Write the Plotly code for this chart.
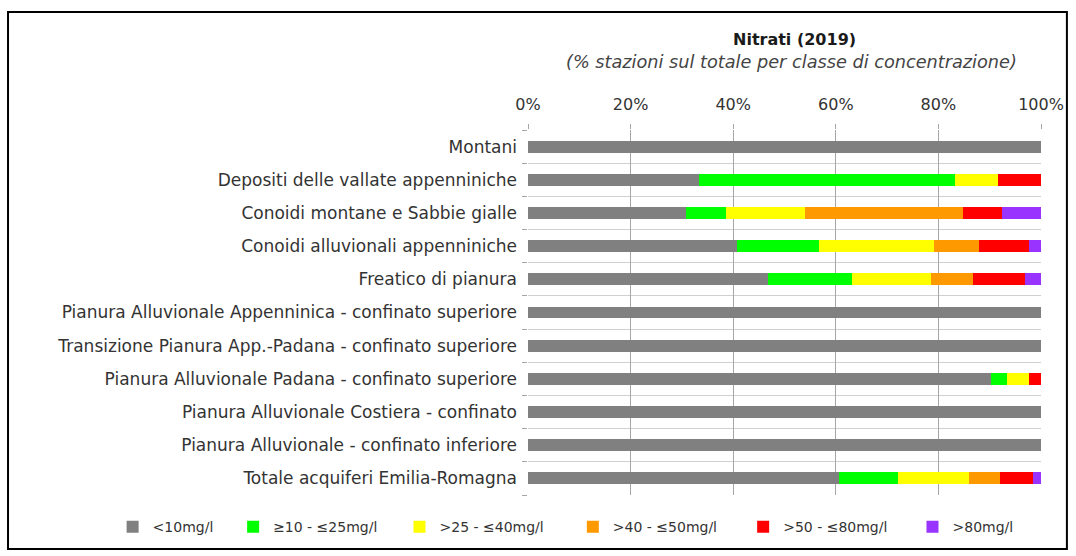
import plotly.graph_objects as go

categories = [
    "Montani",
    "Depositi delle vallate appenniniche",
    "Conoidi montane e Sabbie gialle",
    "Conoidi alluvionali appenniniche",
    "Freatico di pianura",
    "Pianura Alluvionale Appenninica - confinato superiore",
    "Transizione Pianura App.-Padana - confinato superiore",
    "Pianura Alluvionale Padana - confinato superiore",
    "Pianura Alluvionale Costiera - confinato",
    "Pianura Alluvionale - confinato inferiore",
    "Totale acquiferi Emilia-Romagna",
]

series_names = ["<10mg/l", "≥10 - ≤25mg/l", ">25 - ≤40mg/l", ">40 - ≤50mg/l", ">50 - ≤80mg/l", ">80mg/l"]
series_colors = ["#808080", "#00FF00", "#FFFF00", "#FF9900", "#FF0000", "#9933FF"]

lt10 = [100, 33.3, 30.8, 40.7, 46.8, 100, 100, 90.2, 100, 100, 60.6]
c10_25 = [0, 50.0, 7.7, 16.0, 16.4, 0, 0, 3.2, 0, 0, 11.6]
c25_40 = [0, 8.3, 15.4, 22.5, 15.3, 0, 0, 4.3, 0, 0, 13.7]
c40_50 = [0, 0, 30.8, 8.8, 8.2, 0, 0, 0, 0, 0, 6.2]
c50_80 = [0, 8.4, 7.7, 9.7, 10.1, 0, 0, 2.3, 0, 0, 6.3]
gt80 = [0, 0, 7.6, 2.3, 3.2, 0, 0, 0, 0, 0, 1.6]

series_values = [lt10, c10_25, c25_40, c40_50, c50_80, gt80]
x_ticks = [0, 20, 40, 60, 80, 100]
x_ticktext = ["0%", "20%", "40%", "60%", "80%", "100%"]

# left edge (paper fraction) of each legend entry
legend_x = [-0.8097, -0.5748, -0.2505, 0.0874, 0.4194, 0.7495]

FONT = "DejaVu Sans"
TXT = "#333333"

ypos = list(range(len(categories)))

fig = go.Figure()
legend_ids = ["legend"] + ["legend%d" % (i + 1) for i in range(1, len(series_names))]
for i, (name, color, vals) in enumerate(zip(series_names, series_colors, series_values)):
    fig.add_trace(go.Bar(
        x=vals, y=ypos, orientation="h", name=name,
        marker=dict(color=color, line=dict(width=0)),
        width=0.36,
        legend=legend_ids[i],
    ))

legend_common = dict(
    orientation="h", y=-0.088, yanchor="middle", xanchor="left",
    font=dict(family=FONT, size=14, color=TXT),
    itemwidth=30, traceorder="normal", bgcolor="rgba(0,0,0,0)",
)
legends = {lid: dict(x=lx, **legend_common) for lid, lx in zip(legend_ids, legend_x)}

fig.update_layout(
    barmode="stack",
    width=1076, height=556,
    margin=dict(l=528, r=33, t=130, b=61),
    paper_bgcolor="white", plot_bgcolor="white",
    font=dict(family=FONT, size=16, color=TXT),
    showlegend=True,
    xaxis=dict(
        side="top", range=[0, 100], tickvals=x_ticks, ticktext=x_ticktext,
        showgrid=True, gridcolor="#A6A6A6", gridwidth=1,
        ticks="outside", ticklen=5, tickcolor="#A6A6A6",
        ticklabelstandoff=8,
        zeroline=False, showline=False,
        tickfont=dict(family=FONT, size=16, color=TXT),
    ),
    yaxis=dict(
        range=[len(categories) - 0.5, -0.5],
        tickvals=ypos, ticktext=categories,
        showgrid=False, zeroline=False, ticks="",
        showline=False, ticklabelstandoff=10,
        tickfont=dict(family=FONT, size=17, color=TXT),
        minor=dict(tick0=0.5, dtick=1, showgrid=True, gridcolor="#D0D0D0",
                   ticks="outside", ticklen=5, tickcolor="#A6A6A6"),
    ),
    annotations=[
        dict(text="<b>Nitrati (2019)</b>", xref="paper", yref="paper",
             x=0.519, y=1.247, xanchor="center", yanchor="middle", showarrow=False,
             font=dict(family=FONT, size=16, color="#1a1a1a")),
        dict(text="<i>(% stazioni sul totale per classe di concentrazione)</i>", xref="paper", yref="paper",
             x=0.5146, y=1.186, xanchor="center", yanchor="middle", showarrow=False,
             font=dict(family=FONT, size=17.7, color="#444444")),
    ],
    shapes=[
        dict(type="rect", xref="paper", yref="paper",
             x0=-1.0136, x1=1.0505, y0=-0.148, y1=1.323,
             line=dict(color="black", width=2), fillcolor="rgba(0,0,0,0)", layer="below"),
    ],
    **legends,
)

fig.write_html("out.html", config={"displayModeBar": False},
               post_script="document.body.style.margin='0';")
